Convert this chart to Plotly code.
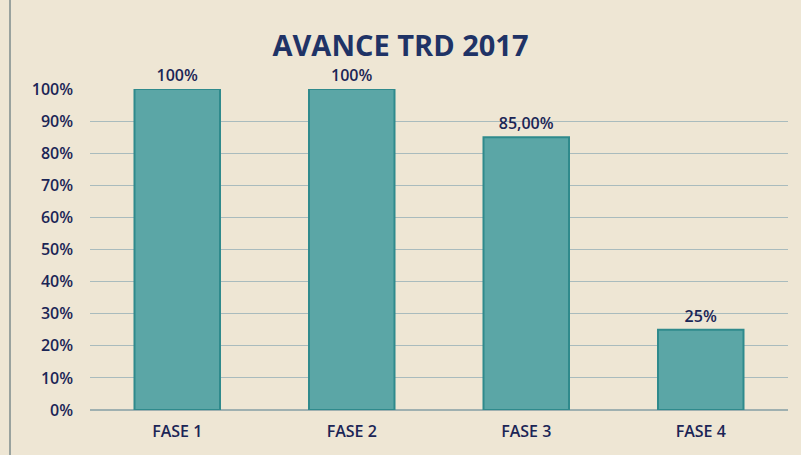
import plotly.graph_objects as go

categories = ["FASE 1", "FASE 2", "FASE 3", "FASE 4"]
values = [1.00, 1.00, 0.85, 0.25]
labels = ["100%", "100%", "85,00%", "25%"]
title = "AVANCE TRD 2017"

navy = "#1b2556"
font = dict(family="Open Sans", size=16, color=navy, weight=600)
fig = go.Figure(go.Bar(
    x=categories, y=values, text=labels, textposition="outside",
    textfont=font,
    marker=dict(color="#5ba6a6", line=dict(color="#2f8a8c", width=2)),
    width=0.49, cliponaxis=False,
))
fig.update_layout(
    width=801, height=455,
    margin=dict(l=90, r=13, t=89, b=45),
    paper_bgcolor="#eee6d4", plot_bgcolor="#eee6d4",
    title=dict(text=f"<b>{title}</b>", x=0.5, xanchor="center", y=0.9, yanchor="middle",
               font=dict(family="Open Sans", size=29, color="#1f3366")),
    showlegend=False,
    bargap=0.51,
)
fig.update_yaxes(range=[0, 1], tickvals=[i/10 for i in range(11)], tickformat=".0%",
                 showgrid=True, gridcolor="#a9bbbd", gridwidth=1.2, zeroline=True,
                 zerolinecolor="#9fb0b0", zerolinewidth=1.5,
                 tickfont=font, ticklabelstandoff=16)
fig.update_xaxes(tickfont=font, ticklabelstandoff=10)
fig.add_shape(type="line", xref="paper", yref="paper", x0=-80/698, x1=-80/698, y0=-45/321, y1=1+89/321,
              line=dict(color="#7d8b8c", width=1.5))
fig.write_html("out.html", config={"displayModeBar": False},
               post_script="document.body.style.margin='0';")
